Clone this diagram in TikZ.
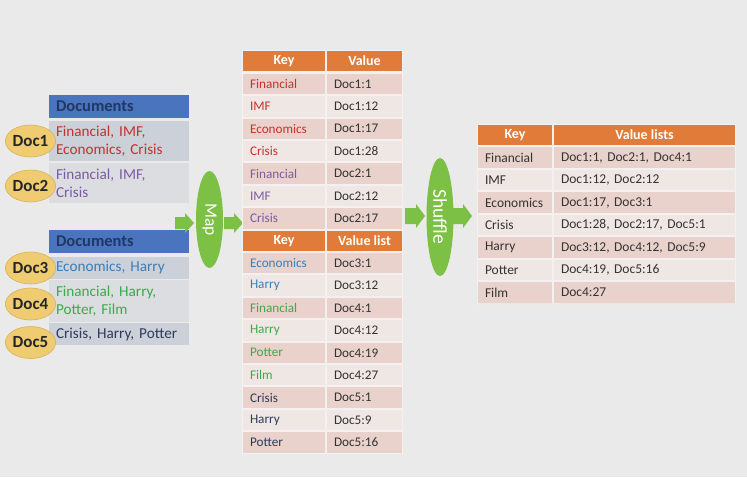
\documentclass[tikz,border=0pt]{standalone}
\usepackage{fontspec}
\setmainfont{Carlito}
\usetikzlibrary{shapes.geometric}
\definecolor{bg}{HTML}{EAEAEA}
\definecolor{gap}{HTML}{F4F0EF}
\definecolor{orng}{HTML}{E07B39}
\definecolor{rpink}{HTML}{E9D2CB}
\definecolor{rlight}{HTML}{EFE7E4}
\definecolor{dhead}{HTML}{4A74BE}
\definecolor{dtext}{HTML}{1F3864}
\definecolor{ldark}{HTML}{CBD0D9}
\definecolor{llight}{HTML}{DBDDE1}
\definecolor{gold}{HTML}{EFCB72}
\definecolor{golddk}{HTML}{D8B257}
\definecolor{garrow}{HTML}{7CC045}
\definecolor{cred}{HTML}{C8302E}
\definecolor{cpurp}{HTML}{7B5AA6}
\definecolor{cblue}{HTML}{3A7FBA}
\definecolor{cgreen}{HTML}{3BAA4A}
\definecolor{cnavy}{HTML}{2E3B5C}
\definecolor{ctxt}{HTML}{333333}
\newcommand\blockarrow[5]{% x0 x1 yc shafthalf headhalf
  \fill[garrow] (#1,#3-#4) -- (#2-9,#3-#4) -- (#2-9,#3-#5) -- (#2,#3) -- (#2-9,#3+#5) -- (#2-9,#3+#4) -- (#1,#3+#4) -- cycle;}
\begin{document}
\begin{tikzpicture}[x=1pt,y=-1pt,
  cellbase/.style={rectangle, inner ysep=0pt, inner xsep=7pt, align=left, anchor=center},
  mkey/.style={cellbase, minimum width=82, text width=68, minimum height=20.5, font=\fontsize{13.2}{15}\selectfont},
  mval/.style={cellbase, minimum width=75, text width=61, minimum height=20.5, font=\fontsize{13.2}{15}\selectfont, text=ctxt},
  rkey/.style={cellbase, minimum width=74, text width=60, minimum height=20.5, font=\fontsize{13.5}{15}\selectfont, text=ctxt},
  rval/.style={cellbase, minimum width=181, text width=167, minimum height=20.5, font=\fontsize{13.5}{15}\selectfont, text=ctxt},
  ohead/.style={rectangle, fill=orng, inner sep=0pt, minimum height=20, text=white, font=\bfseries\fontsize{14}{15}\selectfont},
  lhead/.style={cellbase, fill=dhead, minimum width=140, text width=126, minimum height=23, text=dtext, font=\bfseries\fontsize{16.5}{17}\selectfont},
  lrow/.style={cellbase, minimum width=140, text width=126, font=\fontsize{15.2}{18}\selectfont},
  docell/.style={ellipse, fill=gold, draw=golddk, line width=0.6pt, minimum width=49, minimum height=32, inner sep=0pt, text=black!85, font=\bfseries\fontsize{17}{18}\selectfont},
  gell/.style={ellipse, fill=garrow, minimum width=27, inner sep=0pt, text=white}
]
\useasboundingbox (0,0) rectangle (747,477);
\fill[bg] (0,0) rectangle (747,477);

% ---------- left tables ----------
\node[lhead] (dh1) at (119,106.5) {Documents};
\node[lrow, fill=ldark, minimum height=40, text=cred] (d1) at (119,141) {Financial, IMF,\\Economics, Crisis};
\node[lrow, fill=llight, minimum height=40, text=cpurp] (d2) at (119,183) {Financial, IMF,\\Crisis};
\node[lhead] (dh2) at (119,241.5) {Documents};
\node[lrow, fill=ldark, minimum height=22, text=cblue] (d3) at (119,267.5) {Economics, Harry};
\node[lrow, fill=llight, minimum height=41.5, text=cgreen] (d4) at (119,300.75) {Financial, Harry,\\Potter, Film};
\node[lrow, fill=ldark, minimum height=22, text=cnavy] (d5) at (119,334) {Crisis, Harry, Potter};

\node[docell] (e1) at (30.5,141) {Doc1};
\node[docell] (e2) at (30.5,186) {Doc2};
\node[docell] (e3) at (30.5,268) {Doc3};
\node[docell] (e4) at (30.5,304) {Doc4};
\node[docell] (e5) at (30.5,342.5) {Doc5};

% ---------- Map ----------
\blockarrow{175}{194}{223}{6}{10}
\node[gell, minimum height=97] (map) at (209.5,219.5) {\rotatebox{-90}{\fontsize{17.5}{18}\selectfont Map}};
\blockarrow{224}{243}{223}{6}{10}

% ---------- middle tables ----------
\fill[gap] (242,50) rectangle (403,453.5);
\node[ohead, minimum width=82] (mh1k) at (284,61) {Key};
\node[ohead, minimum width=75] (mh1v) at (364.5,61) {Value};
\foreach \k/\v/\c [count=\i from 0] in {Financial/Doc1:1/cred, IMF/Doc1:12/cred, Economics/Doc1:17/cred, Crisis/Doc1:28/cred, Financial/Doc2:1/cpurp, IMF/Doc2:12/cpurp, Crisis/Doc2:17/cpurp}{
  \ifodd\i \def\rf{rlight}\else\def\rf{rpink}\fi
  \pgfmathsetmacro\yy{84+22.4*\i}
  \node[mkey, fill=\rf, text=\c] (ak\i) at (284,\yy) {\k};
  \node[mval, fill=\rf] (av\i) at (364.5,\yy) {\v};
}
\node[ohead, minimum width=82] (mh2k) at (284,241) {Key};
\node[ohead, minimum width=75] (mh2v) at (364.5,241) {Value list};
\foreach \k/\v/\c [count=\i from 0] in {Economics/Doc3:1/cblue, Harry/Doc3:12/cblue, Financial/Doc4:1/cgreen, Harry/Doc4:12/cgreen, Potter/Doc4:19/cgreen, Film/Doc4:27/cgreen, Crisis/Doc5:1/cnavy, Harry/Doc5:9/cnavy, Potter/Doc5:16/cnavy}{
  \ifodd\i \def\rf{rlight}\else\def\rf{rpink}\fi
  \pgfmathsetmacro\yy{263.2+22.4*\i}
  \node[mkey, fill=\rf, text=\c] (bk\i) at (284,\yy) {\k};
  \node[mval, fill=\rf] (bv\i) at (364.5,\yy) {\v};
}

% ---------- Shuffle ----------
\blockarrow{405}{425}{216}{8}{12}
\node[gell, minimum height=118] (shuf) at (440,217) {\rotatebox{-90}{\fontsize{19.5}{20}\selectfont Shuffle}};
\blockarrow{453}{472}{216}{8}{12}

% ---------- right table ----------
\fill[gap] (477,124) rectangle (736,305);
\node[ohead, minimum width=74] (rhk) at (515,135) {Key};
\node[ohead, minimum width=181] (rhv) at (644.5,135) {Value lists};
\foreach \k/\v [count=\i from 0] in {Financial/{Doc1:1, Doc2:1, Doc4:1}, IMF/{Doc1:12, Doc2:12}, Economics/{Doc1:17, Doc3:1}, Crisis/{Doc1:28, Doc2:17, Doc5:1}, Harry/{Doc3:12, Doc4:12, Doc5:9}, Potter/{Doc4:19, Doc5:16}, Film/{Doc4:27}}{
  \ifodd\i \def\rf{rlight}\else\def\rf{rpink}\fi
  \pgfmathsetmacro\yy{157.5+22.5*\i}
  \node[rkey, fill=\rf] (ck\i) at (515,\yy) {\k};
  \node[rval, fill=\rf] (cv\i) at (644.5,\yy) {\v};
}
\fill[rlight] (478,303.2) rectangle (735,305);
\end{tikzpicture}
\end{document}
